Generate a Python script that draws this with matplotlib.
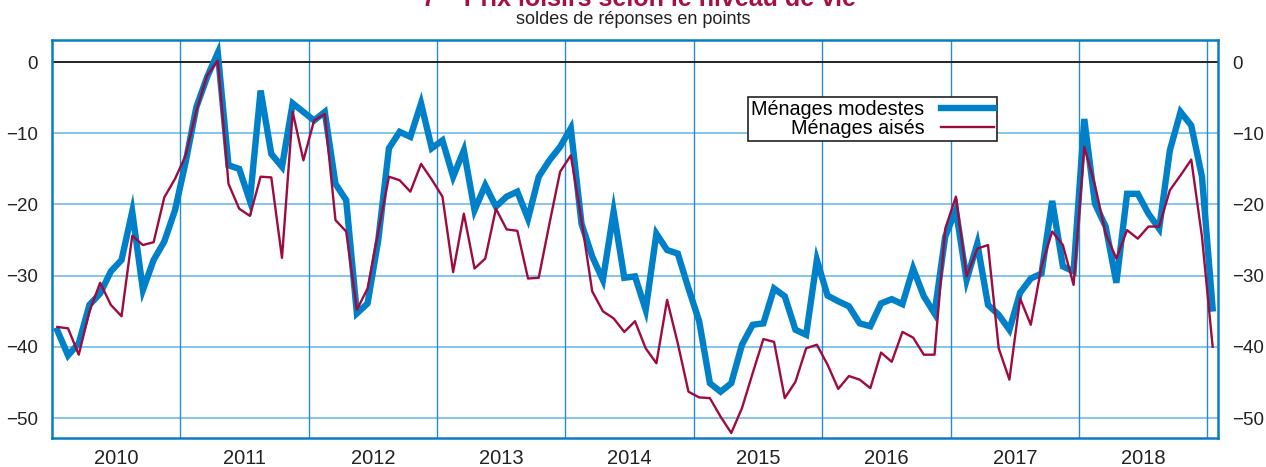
import numpy as np
import matplotlib
matplotlib.use("Agg")
import matplotlib.pyplot as plt

plt.rcParams['font.family'] = ['Liberation Sans', 'DejaVu Sans']

# monthly series, Jan 2010 -> Jan 2019
modestes = [
    -37.7, -41.2, -39.5, -34.1, -32.5, -29.4, -27.8, -21.0, -32.0, -27.8, -25.2, -20.8,
    -14.0, -6.3, -2.1, 1.3, -14.5, -15.0, -19.5, -4.0, -12.9, -14.7, -5.8, -7.0,
    -8.2, -7.0, -17.1, -19.4, -35.3, -33.9, -25.0, -12.1, -9.8, -10.5, -5.8, -12.1,
    -11.0, -16.1, -12.4, -20.8, -17.3, -20.3, -18.9, -18.2, -22.0, -16.1, -13.8, -11.9,
    -9.3, -22.7, -27.3, -30.6, -21.0, -30.3, -30.1, -34.8, -24.1, -26.4, -26.9, -31.8,
    -36.4, -45.1, -46.3, -45.1, -39.7, -36.9, -36.7, -31.8, -32.9, -37.6, -38.3, -27.8,
    -32.8, -33.6, -34.3, -36.7, -37.1, -33.9, -33.3, -34.0, -29.0, -32.9, -35.3, -24.5,
    -20.8, -30.6, -25.5, -34.1, -35.5, -37.6, -32.4, -30.4, -29.7, -19.5, -28.7, -29.4,
    -8.0, -19.9, -23.1, -31.0, -18.5, -18.5, -21.3, -23.4, -12.4, -7.0, -8.9, -16.1,
    -34.6,
]
aises = [
    -37.2, -37.4, -41.1, -35.0, -31.0, -34.1, -35.7, -24.4, -25.7, -25.3, -19.0, -16.4,
    -13.1, -6.8, -1.9, 0.2, -17.1, -20.6, -21.6, -16.1, -16.2, -27.5, -7.0, -13.8,
    -8.2, -7.3, -22.2, -23.8, -34.8, -31.8, -23.8, -16.1, -16.6, -18.2, -14.3, -16.5,
    -18.9, -29.5, -21.3, -29.0, -27.6, -20.6, -23.5, -23.7, -30.4, -30.3, -22.7, -15.4,
    -13.1, -22.2, -32.2, -35.0, -36.0, -37.9, -36.4, -40.2, -42.3, -33.4, -39.5, -46.3,
    -47.1, -47.2, -49.8, -52.1, -48.6, -43.7, -38.9, -39.3, -47.2, -44.9, -40.2, -39.7,
    -42.5, -45.9, -44.1, -44.6, -45.8, -40.8, -42.1, -37.9, -38.7, -41.1, -41.1, -23.4,
    -18.9, -30.1, -26.2, -25.7, -40.2, -44.6, -33.2, -36.9, -28.7, -23.8, -25.7, -31.3,
    -11.9, -17.3, -24.1, -27.6, -23.6, -24.8, -23.1, -23.1, -18.0, -15.9, -13.7, -24.5,
    -40.0,
]
years = list(range(2010, 2019))
yticks = [0, -10, -20, -30, -40, -50]

x = 2010 + (np.arange(len(modestes)) + 0.5) / 12

fig = plt.figure(figsize=(12.66, 4.67), dpi=100)
ax = fig.add_axes([52 / 1266, 1 - 438 / 467, 1166 / 1266, 398 / 467])

grid_h = '#7cc0e8'
grid_v = '#2a8ccc'
frame = '#0a7cc1'

for yv in yticks[1:]:
    ax.axhline(yv, color=grid_h, lw=1.3, zorder=1)
for yr in years[1:] + [2019]:
    ax.axvline(yr, color=grid_v, lw=1.0, zorder=1)
ax.axhline(0, color='#222222', lw=1.4, zorder=2)

ax.plot(x, modestes, color='#0080c8', lw=4.6, solid_joinstyle='miter',
        label='Ménages modestes', zorder=3)
ax.plot(x, aises, color='#9e0b3e', lw=1.7, label='Ménages aisés', zorder=4)

ax.set_xlim(2010, 2010 + len(modestes) / 12)
ax.set_ylim(-52.8, 3.1)

ax.set_yticks(yticks)
ax.set_yticklabels(['0' if v == 0 else '\u2212%d' % -v for v in yticks])
ax.set_xticks([yr + 0.5 for yr in years])
ax.set_xticklabels([str(yr) for yr in years])
ax.tick_params(axis='both', length=0, colors='#222222')
ax.tick_params(axis='x', pad=8, labelsize=14.5)
ax.tick_params(axis='y', pad=10, labelsize=13.5, labelright=True)

for s in ax.spines.values():
    s.set_color(frame)
    s.set_linewidth(1.8)

leg = ax.legend(loc='upper left', bbox_to_anchor=(0.597, 0.857), borderaxespad=0,
                markerfirst=False, fontsize=14.2, frameon=True, fancybox=False,
                edgecolor='#222222', handlelength=2.7, handletextpad=0.85,
                borderpad=0.15, labelspacing=0.0, framealpha=1)
leg.get_frame().set_linewidth(1.2)
for t in leg.get_texts():
    t.set_ha('right')
leg._legend_box.align = 'right'

fig.text(0.505, 1 - 6 / 467, '7 – Prix loisirs selon le niveau de vie', ha='center',
         va='baseline', fontsize=18, fontweight='bold', color='#a5123f')
fig.text(0.5, 1 - 19 / 467, 'soldes de réponses en points', ha='center', va='center',
         fontsize=13, color='#222222')

fig.savefig('out.png', dpi=100)
